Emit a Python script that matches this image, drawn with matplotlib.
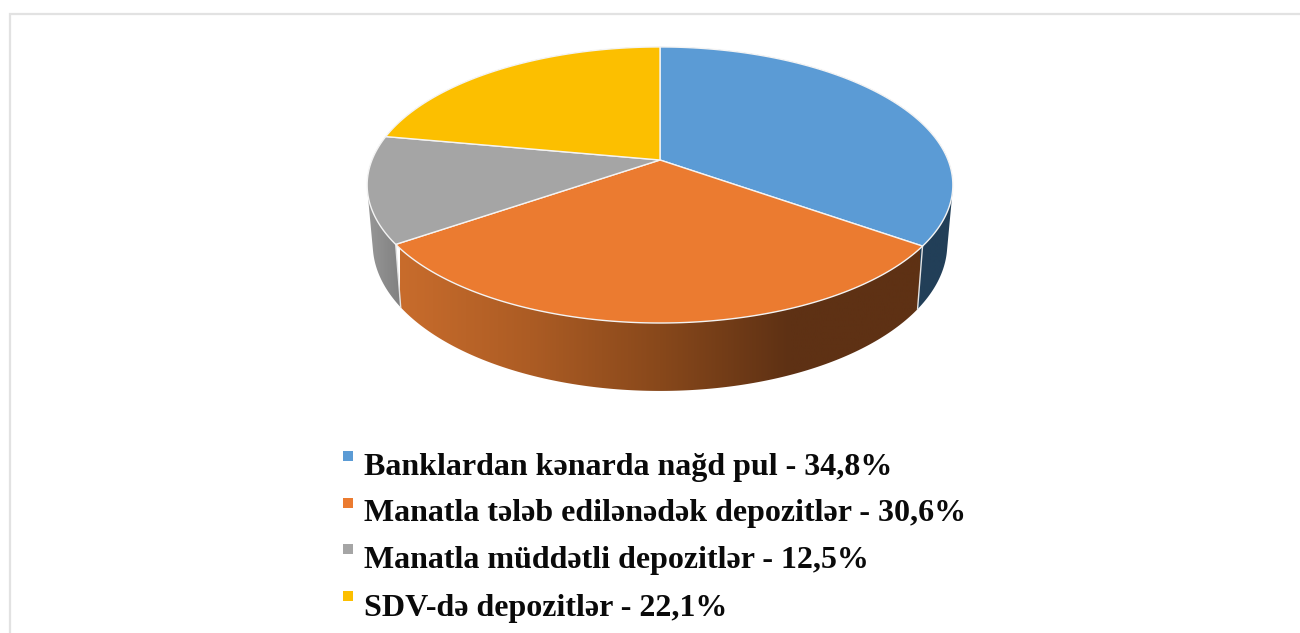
import numpy as np
import matplotlib
matplotlib.use("Agg")
import matplotlib.pyplot as plt
from matplotlib.colors import LinearSegmentedColormap
from matplotlib.patches import Polygon

# legend names and shares
categories = ["Banklardan kənarda nağd pul", "Manatla tələb edilənədək depozitlər",
              "Manatla müddətli depozitlər", "SDV-də depozitlər"]
shares = [34.8, 30.6, 12.5, 22.1]
colors = ["#5B9BD5", "#EB7B30", "#A5A5A5", "#FCBF00"]

# pie geometry in pixels
cx, cy = 660, 160
k = 0.181      # perspective strength
ax_x, ax_y = 288, 133.5


def top_point(theta):
    # theta clockwise from 12 o'clock, radians
    u, v = np.sin(theta), np.cos(theta)
    d = 1 + k * v
    return cx + ax_x * u / d, cy - ax_y * v / d


def bottom_point(theta):
    x, y = top_point(theta)
    return cx + 0.981 * (x - cx), cy + 1.064 * (y - cy) + 57.5


def hull(points):
    pts = sorted(set(map(tuple, points)))
    def half(seq):
        out = []
        for p in seq:
            while len(out) > 1 and ((out[-1][0] - out[-2][0]) * (p[1] - out[-2][1])
                                    - (out[-1][1] - out[-2][1]) * (p[0] - out[-2][0])) <= 0:
                out.pop()
            out.append(p)
        return out[:-1]
    return np.array(half(pts) + half(pts[::-1]))


# side shading, left to right: x range, then colours
side_x = [(366, 960), (400, 920), (366, 402), (366, 660)]
side_colors = [["#223F58", "#223F58"],
               ["#C86C2C", "#AC5C24", "#88481B", "#5E3114", "#5E3114"],
               ["#989898", "#808080"],
               ["#997300", "#997300"]]

fig = plt.figure(figsize=(13, 6.33), dpi=100)
ax = fig.add_axes([0, 0, 1, 1])
ax.axis("off")

# light frame, it runs off the right and bottom of the picture
ax.plot([9.5, 9.5, 1300], [633, 14, 14], color="#E2E2E2", lw=1.6, solid_joinstyle="miter")

edges = np.cumsum([0] + shares) / sum(shares) * 2 * np.pi
gradient = np.linspace(0, 1, 256).reshape(1, -1)

# sides first, a gradient image clipped to each slice's wall.
# orange goes last because its hull has to cover the chords of its neighbours
for i in [3, 0, 2, 1]:
    t = np.linspace(edges[i], edges[i + 1], 200)
    tx, ty = top_point(t)
    bx, by = bottom_point(t)
    wall = Polygon(hull(np.c_[np.r_[tx, bx], np.r_[ty, by]]), closed=True,
                   transform=ax.transData, facecolor="none", edgecolor="none")
    ax.add_patch(wall)
    cmap = LinearSegmentedColormap.from_list("side%d" % i, side_colors[i])
    im = ax.imshow(gradient, cmap=cmap, aspect="auto", zorder=2, interpolation="bilinear",
                   extent=[side_x[i][0], side_x[i][1], 420, 40])
    im.set_clip_path(wall)

ax.set_xlim(0, 1300)
ax.set_ylim(633, 0)

# pale lines where side panels meet
for e in edges[1:3]:
    p, q = top_point(e), bottom_point(e)
    ax.plot([p[0], q[0]], [p[1], q[1]], color="#E4E4E4", lw=1, zorder=3)

# top face
for i in range(len(shares)):
    t = np.linspace(edges[i], edges[i + 1], 200)
    x, y = top_point(t)
    ax.fill(np.r_[cx, x], np.r_[cy, y], facecolor=colors[i], edgecolor="#F4F4F4",
            lw=1, joinstyle="round", zorder=4)

# legend
marker_y = [456, 503, 549, 596]
text_y = [475, 521, 568, 616]
for name, share, col, my, ty in zip(categories, shares, colors, marker_y, text_y):
    ax.scatter([348], [my], marker="s", s=52, color=col, linewidths=0, zorder=5)
    label = name + " - " + str(share).replace(".", ",") + "%"
    ax.text(364, ty, label, family="Liberation Serif", weight="bold",
            fontsize=23.05, color="#0A0A0A", ha="left", va="baseline")

fig.savefig("out.png", dpi=100)
